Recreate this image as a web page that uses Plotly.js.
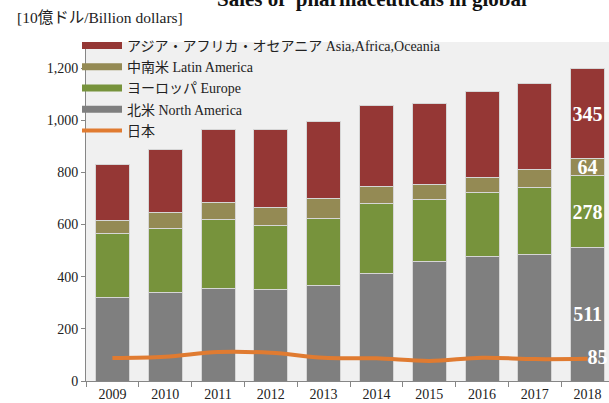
<!DOCTYPE html>
<html>
<head>
<meta charset="utf-8">
<script src="https://cdn.plot.ly/plotly-3.0.1.min.js"></script>
<style>
html,body{margin:0;padding:0;background:#fff;overflow:hidden;}
#chart{width:609px;height:403px;}
</style>
</head>
<body>
<div id="chart"></div>
<script>
// ---- data ----
var years = ['2009','2010','2011','2012','2013','2014','2015','2016','2017','2018'];
var northAmerica = [319, 339, 355, 350, 367, 413, 459, 477, 486, 511];
var europe       = [247, 246, 265, 247, 257, 268, 238, 244, 257, 278];
var latinAmerica = [51, 63, 66, 70, 74, 63, 58, 61, 67, 64];
var asiaAfrica   = [212, 239, 277, 297, 296, 312, 311, 327, 329, 345];
var japan        = [88, 93, 111, 108, 89, 87, 77, 89, 84, 85];

var seriesNames = {
  asia: 'アジア・アフリカ・オセアニア Asia,Africa,Oceania',
  latin: '中南米 Latin America',
  europe: 'ヨーロッパ Europe',
  na: '北米 North America',
  japan: '日本'
};
var titleText = 'Sales of  pharmaceuticals in global';
var unitText = '[10億ドル/Billion dollars]';

// ---- styles ----
var FONT = '"Liberation Serif", "Times New Roman", "Noto Sans CJK JP", serif';
var colors = {asia:'#953735', latin:'#948A54', europe:'#77933C', na:'#7F7F7F', japan:'#E07B31'};

function lastOnly(arr){
  return arr.map(function(v,i){ return i === arr.length-1 ? String(v) : ''; });
}

function barTrace(vals, key){
  return {
    type:'bar', x:years, y:vals, name:seriesNames[key], showlegend:false,
    marker:{color:colors[key], line:{color:'#d6d6d6', width:1}},
    text:lastOnly(vals), textposition:'inside', insidetextanchor:'middle',
    textangle:0, constraintext:'none',
    textfont:{family:FONT, size:20, color:'#ffffff', weight:'bold'},
    hoverinfo:'skip'
  };
}
function legendTrace(key, w){
  return {type:'scatter', mode:'lines', x:[null], y:[null], name:seriesNames[key],
    line:{color:colors[key], width:w}, hoverinfo:'skip'};
}

var traces = [
  barTrace(northAmerica,'na'),
  barTrace(europe,'europe'),
  barTrace(latinAmerica,'latin'),
  barTrace(asiaAfrica,'asia'),
  legendTrace('asia',7),
  legendTrace('latin',7),
  legendTrace('europe',7),
  legendTrace('na',7),
  {type:'scatter', mode:'lines+text', x:years, y:japan, name:seriesNames.japan,
   line:{color:colors.japan, width:4, shape:'spline'},
   text:lastOnly(japan), textposition:'middle right', cliponaxis:false,
   textfont:{family:FONT, size:20, color:'#ffffff', weight:'bold'},
   hoverinfo:'skip'}
];

var PW = 523, PH = 339;
var layout = {
  width:609, height:403,
  margin:{l:86, r:0, t:42, b:22, pad:0},
  paper_bgcolor:'#ffffff', plot_bgcolor:'#f0f0f0',
  barmode:'stack', bargap:0.356,
  font:{family:FONT, size:14, color:'#222'},
  showlegend:true,
  legend:{x:(77-86)/PW, xanchor:'left', y:1 + 12/PH, yanchor:'top',
    bgcolor:'rgba(0,0,0,0)', borderwidth:0, traceorder:'normal',
    itemwidth:40, font:{family:FONT, size:14, color:'#222'}, tracegroupgap:0},
  xaxis:{type:'category', range:[-0.5, 9.405], showline:true, linecolor:'#868686', linewidth:1,
    ticks:'outside', ticklen:5, tickcolor:'#868686', tickson:'boundaries',
    showgrid:false, zeroline:false, tickfont:{family:FONT, size:14, color:'#222'}, fixedrange:true},
  yaxis:{range:[0,1300], tickvals:[0,200,400,600,800,1000,1200], tickformat:',d',
    showline:true, linecolor:'#868686', linewidth:1, ticks:'outside', ticklen:4, tickcolor:'#868686',
    showgrid:false, zeroline:false, tickfont:{family:FONT, size:14, color:'#222'}, fixedrange:true},
  annotations:[
    {text:titleText, xref:'paper', yref:'paper', x:(372-86)/PW, y:1, xanchor:'center', yanchor:'middle',
     yshift:43, showarrow:false, font:{family:FONT, size:21, color:'#111', weight:'bold'}},
    {text:unitText, xref:'paper', yref:'paper', x:(15-86)/PW, y:1, xanchor:'left', yanchor:'middle',
     yshift:25, showarrow:false, font:{family:FONT, size:15.5, color:'#222'}}
  ]
};

Plotly.newPlot('chart', traces, layout, {staticPlot:true, displayModeBar:false});
</script>
</body>
</html>
